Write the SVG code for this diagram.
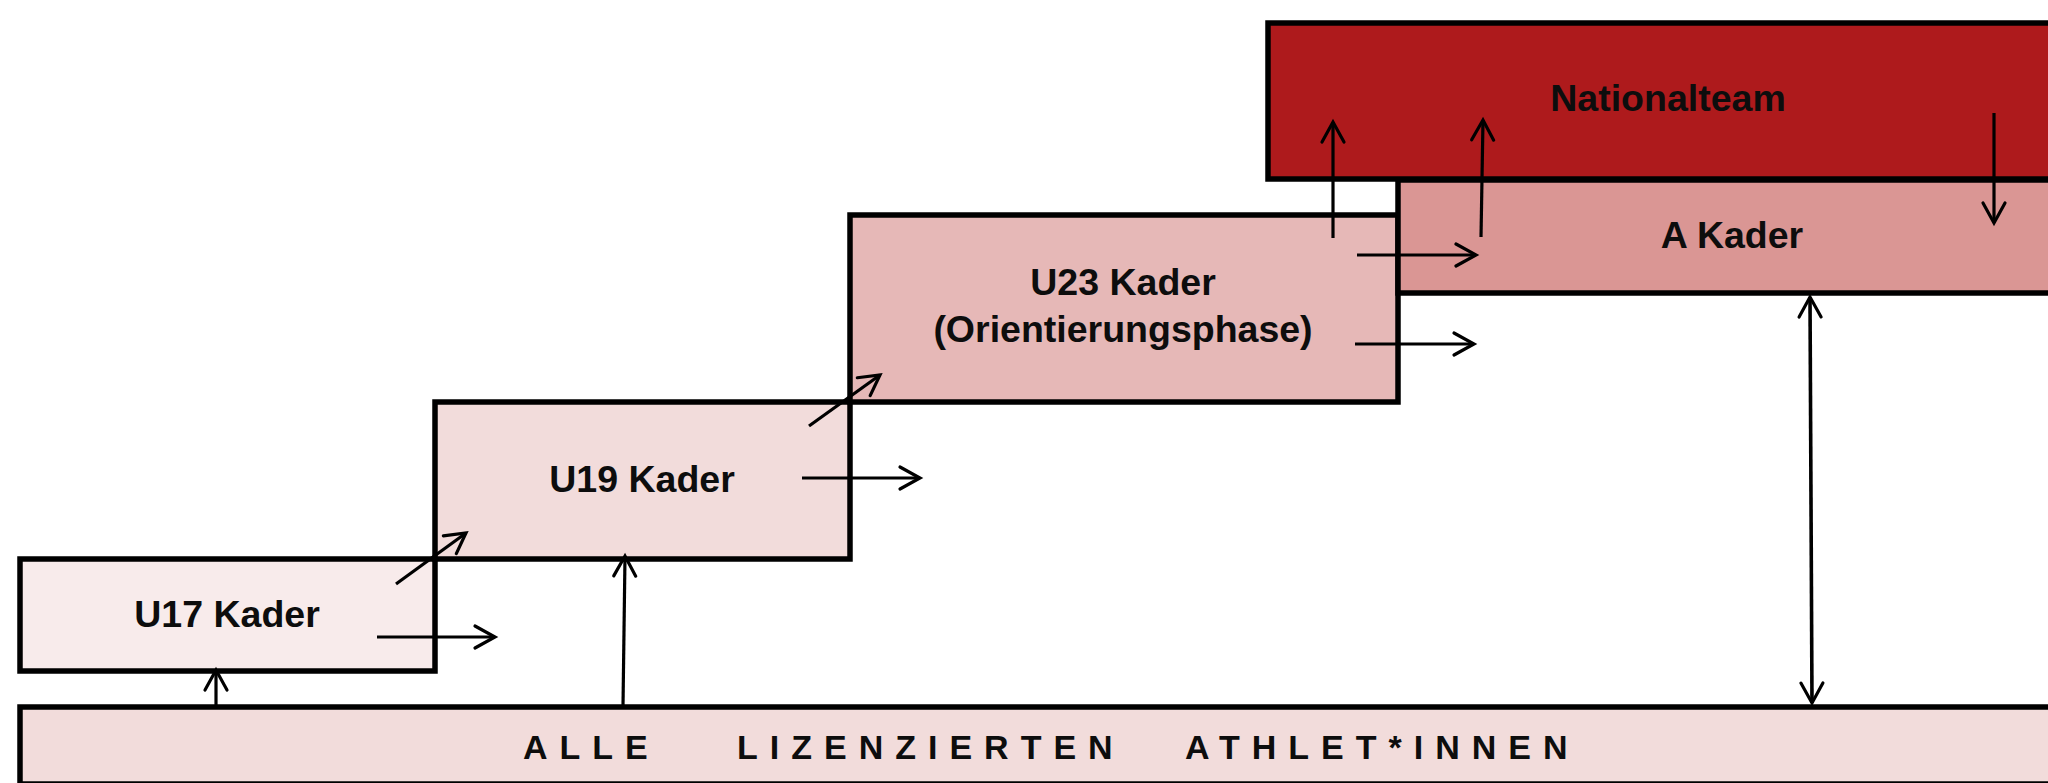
<svg xmlns="http://www.w3.org/2000/svg" width="2048" height="783" viewBox="0 0 2048 783">
  <style>
    .box { stroke: #000; stroke-width: 5.5; }
    .lbl { font-family: "Liberation Sans", Arial, sans-serif; font-weight: bold; font-size: 37.5px; fill: #0d0d0d; text-anchor: middle; }
    .base { font-family: "Liberation Sans", Arial, sans-serif; font-weight: bold; font-size: 34px; fill: #0d0d0d; letter-spacing: 12px; }
    .arr { stroke: #000; stroke-width: 3.2; fill: none; marker-end: url(#ah); }
  </style>
  <defs>
    <marker id="ah" markerUnits="userSpaceOnUse" markerWidth="28" markerHeight="30" viewBox="-4 -15 28 30" refX="20" refY="0" orient="auto-start-reverse">
      <path d="M0,-11 L20,0 L0,11" fill="none" stroke="#000" stroke-width="3.2" stroke-linecap="round" stroke-linejoin="miter"/>
    </marker>
  </defs>
  <rect width="2048" height="783" fill="#fff"/>

  <g id="basis">
    <rect class="box" x="20" y="707" width="2100" height="77" fill="#F2DCDB"/>
    <text class="base" y="759"><tspan x="523">ALLE</tspan><tspan x="737">LIZENZIERTEN</tspan><tspan x="1185">ATHLET*INNEN</tspan></text>
  </g>

  <g id="u17">
    <rect class="box" x="20" y="559" width="415" height="112" fill="#F8EBEB"/>
    <text class="lbl" x="227" y="627">U17 Kader</text>
  </g>

  <g id="u19">
    <rect class="box" x="435" y="402" width="415" height="157" fill="#F2DCDB"/>
    <text class="lbl" x="642" y="492">U19 Kader</text>
  </g>

  <g id="u23">
    <rect class="box" x="850" y="215" width="548" height="187" fill="#E6B8B7"/>
    <text class="lbl" x="1123" y="295">U23 Kader</text>
    <text class="lbl" x="1123" y="342">(Orientierungsphase)</text>
  </g>

  <g id="akader">
    <rect class="box" x="1398" y="180" width="700" height="113" fill="#DA9694"/>
    <text class="lbl" x="1732" y="248">A Kader</text>
  </g>

  <g id="nationalteam">
    <rect class="box" x="1268" y="23" width="830" height="156" fill="#AE1A1C"/>
    <text class="lbl" x="1668" y="111" fill="#000">Nationalteam</text>
  </g>

  <g id="connectors">
    <line class="arr" x1="216" y1="706" x2="216" y2="670"/>
    <line class="arr" x1="623" y1="706" x2="625" y2="556"/>
    <line class="arr" x1="377" y1="637" x2="495" y2="637"/>
    <line class="arr" x1="396" y1="584" x2="466" y2="533"/>
    <line class="arr" x1="802" y1="478" x2="920" y2="478"/>
    <line class="arr" x1="809" y1="426" x2="880" y2="375"/>
    <line class="arr" x1="1357" y1="255" x2="1476" y2="255"/>
    <line class="arr" x1="1355" y1="344" x2="1474" y2="344"/>
    <line class="arr" x1="1333" y1="238" x2="1333" y2="122"/>
    <line class="arr" x1="1481" y1="237" x2="1483" y2="120"/>
    <line class="arr" x1="1994" y1="113" x2="1994" y2="223"/>
    <line class="arr" x1="1810" y1="297" x2="1812" y2="703" style="marker-start:url(#ah);stroke-width:3.6"/>
  </g>
</svg>
